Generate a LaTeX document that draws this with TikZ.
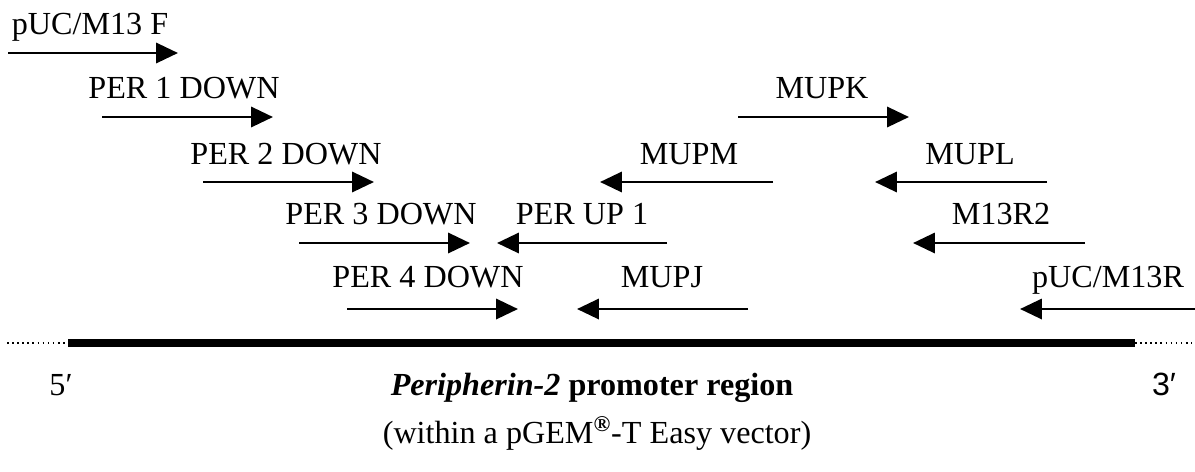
\documentclass[tikz,border=0pt]{standalone}
\usepackage{fontspec}
\setmainfont{Liberation Serif}
\newfontfamily\labelsans{Liberation Sans}
\usetikzlibrary{arrows.meta}
\begin{document}
\begin{tikzpicture}[x=0.02cm,y=-0.02cm,
  primer/.style={line width=1.6pt,-{Triangle[length=12.5pt,width=11.5pt]}},
  lbl/.style={anchor=base,inner sep=0pt,font=\fontsize{18.3}{21}\selectfont},
  insert/.style={line width=4.5pt,line cap=butt},
  vector/.style={line width=0.9pt,dotted},
]
\useasboundingbox (0,0) rectangle (1195,471);

% primer names
\node[lbl] (lF)   at (90,34)   {pUC/M13 F};
\node[lbl] (l1)   at (184,98)  {PER 1 DOWN};
\node[lbl] (lK)   at (822,98)  {MUPK};
\node[lbl] (l2)   at (286,164) {PER 2 DOWN};
\node[lbl] (lM)   at (689,164) {MUPM};
\node[lbl] (lL)   at (970,164) {MUPL};
\node[lbl] (l3)   at (381,224) {PER 3 DOWN};
\node[lbl] (lU)   at (582,224) {PER UP 1};
\node[lbl] (lR2)  at (1001,224) {M13R2};
\node[lbl] (l4)   at (428,287) {PER 4 DOWN};
\node[lbl] (lJ)   at (662,287) {MUPJ};
\node[lbl] (lR)   at (1108,287) {pUC/M13R};

% primer start and end points
\coordinate (aF0) at (8,53);    \coordinate (aF1) at (178,53);
\coordinate (a10) at (102,117); \coordinate (a11) at (273,117);
\coordinate (aK0) at (738,117); \coordinate (aK1) at (909,117);
\coordinate (a20) at (203,182); \coordinate (a21) at (374,182);
\coordinate (aM0) at (773,182); \coordinate (aM1) at (600,182);
\coordinate (aL0) at (1047,182); \coordinate (aL1) at (875,182);
\coordinate (a30) at (299,243); \coordinate (a31) at (470,243);
\coordinate (aU0) at (667,243); \coordinate (aU1) at (497,243);
\coordinate (aR20) at (1085,243); \coordinate (aR21) at (913,243);
\coordinate (a40) at (347,309); \coordinate (a41) at (518,309);
\coordinate (aJ0) at (748,309); \coordinate (aJ1) at (577,309);
\coordinate (aR0) at (1195,309); \coordinate (aR1) at (1020,309);

\foreach \p in {F,1,K,2,M,L,3,U,R2,4,J,R}
  \draw[primer] (a\p0) -- (a\p1);

% template: vector flanks and promoter insert
\coordinate (v0) at (7,343);
\coordinate (i0) at (68,343);
\coordinate (i1) at (1135,343);
\coordinate (v1) at (1192,343);
\draw[vector] (v0) -- (i0);
\draw[vector] (i1) -- (v1);
\draw[insert] (i0) -- (i1);

% ends and caption
\node[lbl] (p5) at (61,395) {5′};
\node[lbl,font=\fontsize{18.3}{21}\labelsans] (p3) at (1164,395) {3′};
\node[lbl] (cap1) at (592,395) {\textbf{\textit{Peripherin-2} promoter region}};
\node[lbl] (cap2) at (597,443) {(within a pGEM\textsuperscript{\textbf{®}}-T Easy vector)};
\end{tikzpicture}
\end{document}
